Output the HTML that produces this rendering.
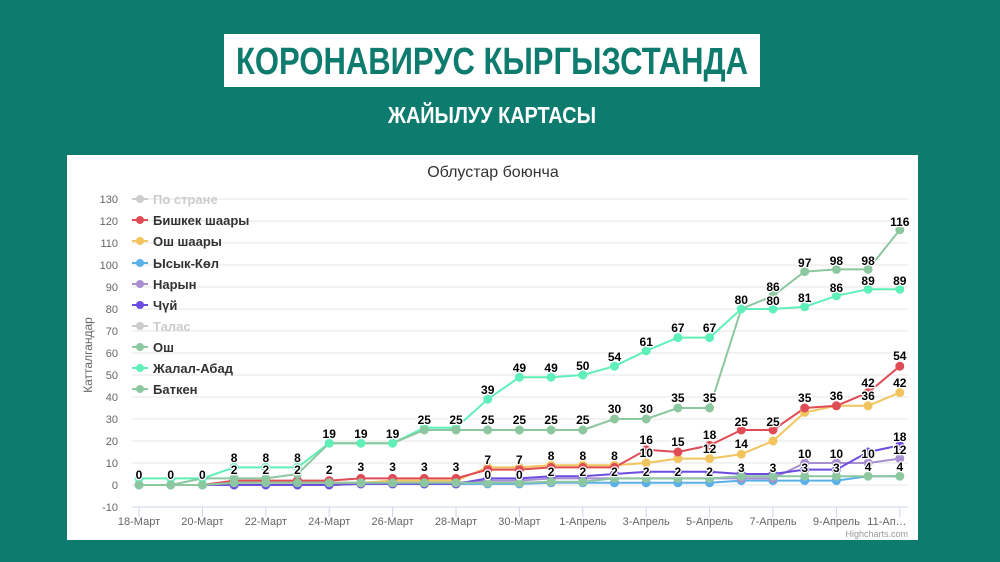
<!DOCTYPE html>
<html><head><meta charset="utf-8"><style>
html,body{margin:0;padding:0;width:1000px;height:562px;overflow:hidden;background:#0d7b6d;font-family:"Liberation Sans",sans-serif}
</style></head><body>
<svg width="1000" height="562" viewBox="0 0 1000 562" xmlns="http://www.w3.org/2000/svg" style="position:absolute;left:0;top:0">
<rect x="0" y="0" width="1000" height="562" fill="#0d7b6d"/>
<rect x="224" y="34" width="536" height="53" fill="#fff"/>
<text x="492" y="74" text-anchor="middle" font-family="'Liberation Sans Narrow','Liberation Sans',sans-serif" font-weight="bold" font-size="38" fill="#0d7b6d" textLength="512" lengthAdjust="spacingAndGlyphs">КОРОНАВИРУС КЫРГЫЗСТАНДА</text>
<text x="492" y="123" text-anchor="middle" font-family="'Liberation Sans Narrow','Liberation Sans',sans-serif" font-weight="bold" font-size="23" fill="#fff" textLength="208" lengthAdjust="spacingAndGlyphs">ЖАЙЫЛУУ КАРТАСЫ</text>
<rect x="67" y="155" width="851" height="385" fill="#fff"/>
<text x="493" y="177" text-anchor="middle" font-size="16" fill="#333">Облустар боюнча</text>
<g stroke="#e6e6e6" stroke-width="1">
<line x1="132" x2="908" y1="199" y2="199"/><line x1="132" x2="908" y1="221" y2="221"/><line x1="132" x2="908" y1="243" y2="243"/><line x1="132" x2="908" y1="265" y2="265"/><line x1="132" x2="908" y1="287" y2="287"/><line x1="132" x2="908" y1="309" y2="309"/><line x1="132" x2="908" y1="331" y2="331"/><line x1="132" x2="908" y1="353" y2="353"/><line x1="132" x2="908" y1="375" y2="375"/><line x1="132" x2="908" y1="397" y2="397"/><line x1="132" x2="908" y1="419" y2="419"/><line x1="132" x2="908" y1="441" y2="441"/><line x1="132" x2="908" y1="463" y2="463"/><line x1="132" x2="908" y1="485" y2="485"/>
</g>
<line x1="132" x2="908" y1="507" y2="507" stroke="#ccd6eb"/>
<g stroke="#ccd6eb"><line x1="139" x2="139" y1="507" y2="517"/><line x1="202.4" x2="202.4" y1="507" y2="517"/><line x1="265.8" x2="265.8" y1="507" y2="517"/><line x1="329.2" x2="329.2" y1="507" y2="517"/><line x1="392.6" x2="392.6" y1="507" y2="517"/><line x1="456" x2="456" y1="507" y2="517"/><line x1="519.4" x2="519.4" y1="507" y2="517"/><line x1="582.8" x2="582.8" y1="507" y2="517"/><line x1="646.2" x2="646.2" y1="507" y2="517"/><line x1="709.6" x2="709.6" y1="507" y2="517"/><line x1="773" x2="773" y1="507" y2="517"/><line x1="836.4" x2="836.4" y1="507" y2="517"/><line x1="899.8" x2="899.8" y1="507" y2="517"/></g>
<g font-size="11" fill="#666" text-anchor="end">
<text x="118" y="203">130</text><text x="118" y="225">120</text><text x="118" y="247">110</text><text x="118" y="269">100</text><text x="118" y="291">90</text><text x="118" y="313">80</text><text x="118" y="335">70</text><text x="118" y="357">60</text><text x="118" y="379">50</text><text x="118" y="401">40</text><text x="118" y="423">30</text><text x="118" y="445">20</text><text x="118" y="467">10</text><text x="118" y="489">0</text><text x="118" y="511">-10</text>
</g>
<text transform="translate(92,355) rotate(-90)" text-anchor="middle" font-size="12" fill="#666">Катталгандар</text>
<g font-size="11" fill="#666" text-anchor="middle">
<text x="139" y="525">18-Март</text><text x="202.4" y="525">20-Март</text><text x="265.8" y="525">22-Март</text><text x="329.2" y="525">24-Март</text><text x="392.6" y="525">26-Март</text><text x="456" y="525">28-Март</text><text x="519.4" y="525">30-Март</text><text x="582.8" y="525">1-Апрель</text><text x="646.2" y="525">3-Апрель</text><text x="709.6" y="525">5-Апрель</text><text x="773" y="525">7-Апрель</text><text x="836.4" y="525">9-Апрель</text><text x="887" y="525" text-anchor="middle">11-Ап…</text>
</g>
<text x="908" y="537" text-anchor="end" font-size="9" fill="#999">Highcharts.com</text>

<g transform="translate(139,485) scale(31.7,-2.2)" fill="none" stroke-linejoin="round">
<g stroke-width="2">
<polyline vector-effect="non-scaling-stroke" stroke="#5ab0e8" points="0,0 1,0 2,0 3,0 4,0 5,0 6,0 7,0.5 8,0.5 9,0.5 10,0.5 11,0.5 12,0.5 13,1 14,1 15,1 16,1 17,1 18,1 19,2 20,2 21,2 22,2 23,4 24,4"/>
<polyline vector-effect="non-scaling-stroke" stroke="#a88fd0" points="0,0 1,0 2,0 3,1 4,1 5,1 6,1 7,1 8,1 9,1 10,1 11,2 12,2 13,3 14,3 15,3 16,3 17,3 18,3 19,3 20,3 21,10 22,10 23,10 24,12"/>
<polyline vector-effect="non-scaling-stroke" stroke="#6c4de0" points="0,0 1,0 2,0 3,0 4,0 5,0 6,0 7,0.5 8,0.5 9,0.5 10,0.5 11,3 12,3 13,4 14,4 15,5 16,6 17,6 18,6 19,5 20,5 21,7 22,7 23,15 24,18"/>
<polyline vector-effect="non-scaling-stroke" stroke="#f2c45e" points="0,0 1,0 2,0 3,1 4,1 5,1 6,1 7,1 8,2 9,2 10,2 11,8 12,8 13,9 14,9 15,9 16,10 17,12 18,12 19,14 20,20 21,33 22,36 23,36 24,42"/>
<polyline vector-effect="non-scaling-stroke" stroke="#e04c55" points="0,0 1,0 2,0 3,2 4,2 5,2 6,2 7,3 8,3 9,3 10,3 11,7 12,7 13,8 14,8 15,8 16,16 17,15 18,18 19,25 20,25 21,35 22,36 23,42 24,54"/>
<polyline vector-effect="non-scaling-stroke" stroke="#8cc7a0" points="0,0 1,0 2,0 3,1 4,1 5,1 6,1 7,1 8,1 9,1 10,1 11,1 12,1 13,1.5 14,1.5 15,3 16,3 17,3 18,3 19,4 20,4 21,4 22,4 23,4 24,4"/>
<polyline vector-effect="non-scaling-stroke" stroke="#5ef0b8" points="0,3 1,3 2,3 3,8 4,8 5,8 6,19 7,19 8,19 9,26 10,26 11,39 12,49 13,49 14,50 15,54 16,61 17,67 18,67 19,80 20,80 21,81 22,86 23,89 24,89"/>
<polyline vector-effect="non-scaling-stroke" stroke="#8cc7a0" points="0,0 1,0 2,3 3,3 4,3 5,5 6,19 7,19 8,19 9,25 10,25 11,25 12,25 13,25 14,25 15,30 16,30 17,35 18,35 19,80 20,86 21,97 22,98 23,98 24,116"/>
</g>
<g stroke-width="9" stroke-linecap="round">
<path vector-effect="non-scaling-stroke" stroke="#5ab0e8" d="M0,0h0M1,0h0M2,0h0M3,0h0M4,0h0M5,0h0M6,0h0M7,.5h0M8,.5h0M9,.5h0M10,.5h0M11,.5h0M12,.5h0M13,1h0M14,1h0M15,1h0M16,1h0M17,1h0M18,1h0M19,2h0M20,2h0M21,2h0M22,2h0"/>
<path vector-effect="non-scaling-stroke" stroke="#a88fd0" d="M3,1h0M4,1h0M5,1h0M6,1h0M7,1h0M8,1h0M9,1h0M10,1h0M11,2h0M12,2h0M13,3h0M14,3h0M15,3h0M16,3h0M17,3h0M18,3h0M19,3h0M20,3h0M21,10h0M22,10h0M23,10h0M24,12h0"/>
<path vector-effect="non-scaling-stroke" stroke="#6c4de0" d="M3,0h0M4,0h0M5,0h0M6,0h0M7,.5h0M8,.5h0M9,.5h0M10,.5h0M11,3h0M12,3h0M13,4h0M14,4h0M15,5h0M16,6h0M17,6h0M18,6h0M19,5h0M20,5h0M21,7h0M22,7h0M23,15h0M24,18h0"/>
<path vector-effect="non-scaling-stroke" stroke="#f2c45e" d="M7,1h0M8,2h0M9,2h0M10,2h0M11,8h0M12,8h0M13,9h0M14,9h0M15,9h0M16,10h0M17,12h0M18,12h0M19,14h0M20,20h0M21,33h0M22,36h0M23,36h0M24,42h0"/>
<path vector-effect="non-scaling-stroke" stroke="#e04c55" d="M3,2h0M4,2h0M5,2h0M6,2h0M7,3h0M8,3h0M9,3h0M10,3h0M11,7h0M12,7h0M13,8h0M14,8h0M15,8h0M16,16h0M17,15h0M18,18h0M19,25h0M20,25h0M21,35h0M22,36h0M23,42h0M24,54h0"/>
<path vector-effect="non-scaling-stroke" stroke="#5ef0b8" d="M0,3h0M1,3h0M2,3h0M3,8h0M4,8h0M5,8h0M6,19h0M7,19h0M8,19h0M9,26h0M10,26h0M11,39h0M12,49h0M13,49h0M14,50h0M15,54h0M16,61h0M17,67h0M18,67h0M19,80h0M20,80h0M21,81h0M22,86h0M23,89h0M24,89h0"/>
<path vector-effect="non-scaling-stroke" stroke="#8cc7a0" d="M0,0h0M1,0h0M2,0h0M3,1h0M4,1h0M5,1h0M6,1h0M7,1h0M8,1h0M9,1h0M10,1h0M11,1h0M12,1h0M13,1.5h0M14,1.5h0M15,3h0M16,3h0M17,3h0M18,3h0M19,4h0M20,4h0M21,4h0M22,4h0M23,4h0M24,4h0"/>
<path vector-effect="non-scaling-stroke" stroke="#8cc7a0" d="M3,3h0M4,3h0M5,5h0M9,25h0M10,25h0M11,25h0M12,25h0M13,25h0M14,25h0M15,30h0M16,30h0M17,35h0M18,35h0M20,86h0M21,97h0M22,98h0M23,98h0M24,116h0"/>
</g>
</g>

<g font-size="12" font-weight="bold" fill="#000" stroke="#fff" stroke-width="2.5" paint-order="stroke" text-anchor="middle" stroke-linejoin="round">
<text x="139" y="479">0</text><text x="170.7" y="479">0</text><text x="202.4" y="479">0</text>
<text x="234.1" y="462">8</text><text x="265.8" y="462">8</text><text x="297.5" y="462">8</text>
<text x="234.1" y="474">2</text><text x="265.8" y="474">2</text><text x="297.5" y="474">2</text>
<text x="329.2" y="438">19</text><text x="360.9" y="438">19</text><text x="392.6" y="438">19</text>
<text x="424.3" y="424">25</text><text x="456" y="424">25</text><text x="487.7" y="424">25</text><text x="519.4" y="424">25</text><text x="551.1" y="424">25</text><text x="582.8" y="424">25</text>
<text x="487.7" y="394">39</text><text x="519.4" y="372">49</text><text x="551.1" y="372">49</text><text x="582.8" y="370">50</text><text x="614.5" y="361">54</text><text x="646.2" y="346">61</text><text x="677.9" y="332">67</text><text x="709.6" y="332">67</text><text x="741.3" y="304">80</text><text x="773" y="305">80</text><text x="804.7" y="302">81</text><text x="836.4" y="292">86</text><text x="868.1" y="285">89</text><text x="899.8" y="285">89</text>
<text x="614.5" y="413">30</text><text x="646.2" y="413">30</text><text x="677.9" y="402">35</text><text x="709.6" y="402">35</text><text x="773" y="291">86</text><text x="804.7" y="267">97</text><text x="836.4" y="265">98</text><text x="868.1" y="265">98</text><text x="899.8" y="226">116</text>
<text x="329.2" y="474">2</text><text x="360.9" y="471">3</text><text x="392.6" y="471">3</text><text x="424.3" y="471">3</text><text x="456" y="471">3</text>
<text x="487.7" y="464">7</text><text x="519.4" y="464">7</text><text x="487.7" y="479">0</text><text x="519.4" y="479">0</text>
<text x="551.1" y="460">8</text><text x="582.8" y="460">8</text><text x="614.5" y="460">8</text>
<text x="551.1" y="476">2</text><text x="582.8" y="476">2</text><text x="614.5" y="476">2</text><text x="646.2" y="476">2</text><text x="677.9" y="476">2</text><text x="709.6" y="476">2</text>
<text x="646.2" y="444">16</text><text x="677.9" y="446">15</text><text x="709.6" y="439">18</text><text x="741.3" y="426">25</text><text x="773" y="426">25</text><text x="804.7" y="402">35</text><text x="836.4" y="400">36</text><text x="868.1" y="387">42</text><text x="899.8" y="360">54</text>
<text x="646.2" y="457">10</text><text x="709.6" y="453">12</text><text x="741.3" y="448">14</text><text x="868.1" y="400">36</text><text x="899.8" y="387">42</text>
<text x="741.3" y="472">3</text><text x="773" y="472">3</text><text x="804.7" y="472">3</text><text x="836.4" y="472">3</text>
<text x="804.7" y="458">10</text><text x="836.4" y="458">10</text><text x="868.1" y="458">10</text><text x="899.8" y="441">18</text><text x="899.8" y="454">12</text>
<text x="868.1" y="471">4</text><text x="899.8" y="471">4</text>
</g>

<g font-size="13" font-weight="bold">
<g stroke-width="2"><line x1="132" x2="148" y1="199" y2="199" stroke="#ccc"/><line x1="132" x2="148" y1="220" y2="220" stroke="#e04c55"/><line x1="132" x2="148" y1="241" y2="241" stroke="#f2c45e"/><line x1="132" x2="148" y1="263" y2="263" stroke="#5ab0e8"/><line x1="132" x2="148" y1="284" y2="284" stroke="#a88fd0"/><line x1="132" x2="148" y1="305" y2="305" stroke="#6c4de0"/><line x1="132" x2="148" y1="326" y2="326" stroke="#ccc"/><line x1="132" x2="148" y1="347" y2="347" stroke="#8cc7a0"/><line x1="132" x2="148" y1="368" y2="368" stroke="#5ef0b8"/><line x1="132" x2="148" y1="389" y2="389" stroke="#8cc7a0"/></g>
<circle cx="140" cy="199" r="4" fill="#ccc"/><circle cx="140" cy="220" r="4" fill="#e04c55"/><circle cx="140" cy="241" r="4" fill="#f2c45e"/><circle cx="140" cy="263" r="4" fill="#5ab0e8"/><circle cx="140" cy="284" r="4" fill="#a88fd0"/><circle cx="140" cy="305" r="4" fill="#6c4de0"/><circle cx="140" cy="326" r="4" fill="#ccc"/><circle cx="140" cy="347" r="4" fill="#8cc7a0"/><circle cx="140" cy="368" r="4" fill="#5ef0b8"/><circle cx="140" cy="389" r="4" fill="#8cc7a0"/>
<text x="153" y="204" fill="#ccc">По стране</text><text x="153" y="225" fill="#333">Бишкек шаары</text><text x="153" y="246" fill="#333">Ош шаары</text><text x="153" y="268" fill="#333">Ысык-Көл</text><text x="153" y="289" fill="#333">Нарын</text><text x="153" y="310" fill="#333">Чүй</text><text x="153" y="331" fill="#ccc">Талас</text><text x="153" y="352" fill="#333">Ош</text><text x="153" y="373" fill="#333">Жалал-Абад</text><text x="153" y="394" fill="#333">Баткен</text>
</g>
</svg>
</body></html>
